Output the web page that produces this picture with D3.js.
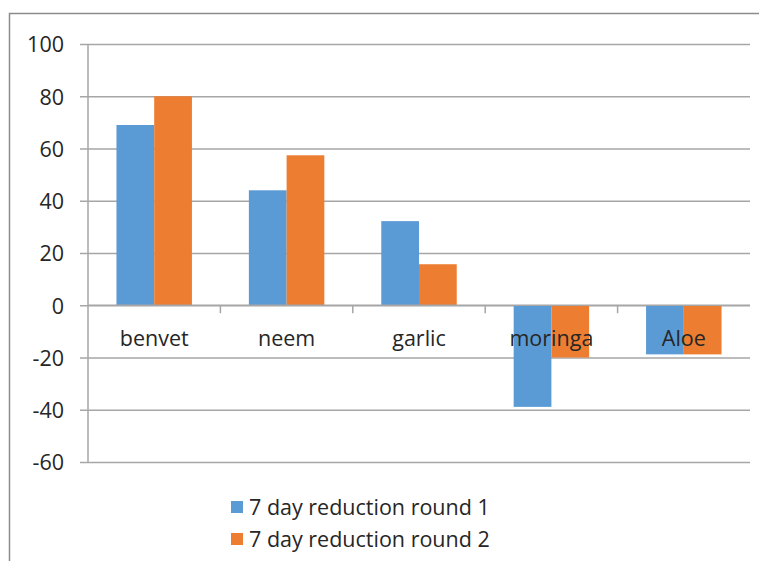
<html>
<head>
<meta charset="utf-8">
<script src="https://d3js.org/d3.v7.min.js"></script>
<style>
  body { margin: 0; background: #fff; }
  text { font-family: "Open Sans", sans-serif; fill: #262626; }
</style>
</head>
<body>
<div id="chart"></div>
<script>
// data
const categories = ["benvet", "neem", "garlic", "moringa", "Aloe"];
const seriesNames = ["7 day reduction round 1", "7 day reduction round 2"];
const round1 = [69, 44, 32.2, -38.9, -18.8];
const round2 = [80, 57.4, 15.7, -20, -18.8];
const yTicks = [-60, -40, -20, 0, 20, 40, 60, 80, 100];
const colours = ["#5b9bd5", "#ed7d31"];

const W = 759, H = 561;
const plotL = 88, plotR = 750, plotT = 44, plotB = 462;

const svg = d3.select("#chart").append("svg")
    .attr("width", W).attr("height", H);

// outer frame of the chart area
svg.append("rect")
    .attr("x", 9.5).attr("y", 13.5)
    .attr("width", 800).attr("height", 600)
    .attr("fill", "none").attr("stroke", "#8c8c8c").attr("stroke-width", 1.5);

const y = d3.scaleLinear().domain([-60, 100]).range([plotB, plotT]);
const x0 = d3.scaleBand().domain(categories).range([plotL, plotR])
    .paddingInner(0.43).paddingOuter(0.215);
const x1 = d3.scaleBand().domain([0, 1]).range([0, x0.bandwidth()]);
const step = x0.step();

// gridlines + y labels (plain hyphen for negatives, like the original)
const gy = svg.append("g").attr("transform", `translate(${plotL},0)`)
    .call(d3.axisLeft(y).tickValues(yTicks).tickFormat(d => String(d))
        .tickSize(-(plotR - plotL)).tickPadding(24))
gy.select(".domain").remove();
gy.selectAll(".tick line").attr("stroke", "#a6a6a6").attr("stroke-width", 1.5).attr("x1", -8);
gy.selectAll(".tick text").attr("font-size", "21.5px").attr("fill", "#262626")
    .attr("font-family", "Open Sans, sans-serif").attr("dy", "0.36em");

// y axis line
svg.append("line").attr("x1", plotL).attr("x2", plotL)
    .attr("y1", y(100)).attr("y2", y(-60))
    .attr("stroke", "#a6a6a6").attr("stroke-width", 1.5);

// bars
const data = categories.map((c, i) => ({ cat: c, vals: [round1[i], round2[i]] }));
const groups = svg.selectAll("g.grp").data(data).enter().append("g")
    .attr("class", "grp")
    .attr("transform", d => `translate(${x0(d.cat)},0)`);
groups.selectAll("rect").data(d => d.vals.map((v, k) => ({ v: v, k: k }))).enter()
    .append("rect")
    .attr("x", d => x1(d.k))
    .attr("width", x1.bandwidth())
    .attr("y", d => y(Math.max(0, d.v)))
    .attr("height", d => Math.abs(y(d.v) - y(0)))
    .attr("fill", d => colours[d.k]);

// zero line + category ticks
svg.append("line").attr("x1", plotL).attr("x2", plotR)
    .attr("y1", y(0)).attr("y2", y(0))
    .attr("stroke", "#a6a6a6").attr("stroke-width", 1.5);
svg.selectAll("line.ctick").data(categories.slice(1)).enter().append("line")
    .attr("class", "ctick")
    .attr("x1", d => x0(d) - (step - x0.bandwidth()) / 2)
    .attr("x2", d => x0(d) - (step - x0.bandwidth()) / 2)
    .attr("y1", y(0)).attr("y2", y(0) + 8)
    .attr("stroke", "#a6a6a6").attr("stroke-width", 1.5);

// category labels
svg.selectAll("text.cat").data(categories).enter().append("text")
    .attr("class", "cat")
    .attr("x", d => x0(d) + x0.bandwidth() / 2)
    .attr("y", y(0) + 41)
    .attr("text-anchor", "middle")
    .attr("font-size", "21.5px")
    .text(d => d);

// legend
const leg = svg.append("g");
seriesNames.forEach((s, i) => {
    leg.append("rect").attr("x", 231).attr("y", 501 + i * 32)
        .attr("width", 12).attr("height", 12).attr("fill", colours[i]);
    leg.append("text").attr("x", 249).attr("y", 515 + i * 32)
        .attr("font-size", "21.5px").text(s);
});
</script>
</body>
</html>
